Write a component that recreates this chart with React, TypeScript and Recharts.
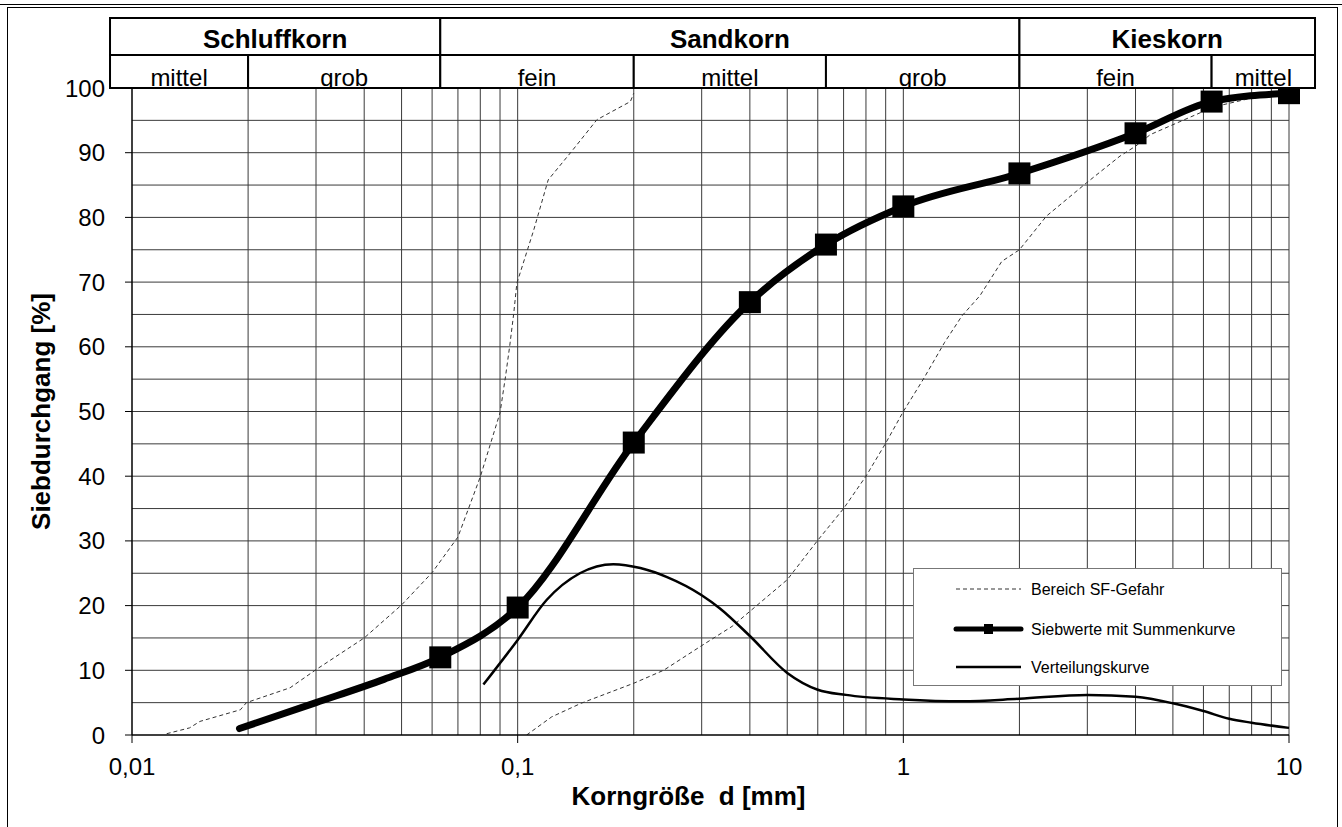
import React from "react";
import { LineChart, Line, XAxis, YAxis, CartesianGrid, ReferenceArea } from "recharts";

const FONT = "'Liberation Sans', Arial, Helvetica, sans-serif";

// Siebwerte mit Summenkurve (Korngröße in mm, Siebdurchgang in %)
const sieveSizes = [0.019, 0.03, 0.045, 0.063, 0.1, 0.2, 0.4, 0.63, 1, 2, 4, 6.3, 10];
const sievePassing = [1.0, 5.0, 8.6, 12.0, 19.7, 45.2, 66.9, 75.8, 81.7, 86.8, 93.0, 97.9, 99.2];
// true = Siebwert (Marker), false = nur Kurvenpunkt
const sieveMarked = [false, false, false, true, true, true, true, true, true, true, true, true, true];

// Bereich SF-Gefahr, feine Grenze
const sfFineSizes = [0.0123, 0.0141, 0.015, 0.0191, 0.0198, 0.0257, 0.03, 0.04, 0.05, 0.06, 0.07, 0.08, 0.09, 0.093, 0.0953, 0.0977, 0.0995, 0.11, 0.12, 0.138, 0.1605, 0.196, 0.2];
const sfFinePassing = [0.2, 1.1, 2.1, 3.9, 5.0, 7.3, 10.1, 15.0, 20.1, 25.1, 30.6, 39.9, 49.8, 55.4, 60.0, 65.2, 69.8, 78.0, 85.8, 90.2, 95.1, 97.9, 99.2];

// Bereich SF-Gefahr, grobe Grenze
const sfCoarseSizes = [0.1055, 0.1225, 0.146, 0.2, 0.239, 0.298, 0.36, 0.5, 0.6, 0.7, 0.8, 0.9, 1.0, 1.127, 1.28, 1.42, 1.58, 1.8, 2.0, 2.35, 2.98, 3.65, 4.0, 4.37, 5.9, 6.3, 10];
const sfCoarsePassing = [0, 2.8, 4.9, 8.0, 10.0, 13.7, 16.8, 24.0, 30.1, 35.0, 40.0, 45.1, 50.0, 55.0, 60.7, 64.8, 67.9, 73.2, 75.0, 80.2, 85.3, 89.5, 91.0, 92.8, 96.2, 97.0, 99.8];

// Verteilungskurve
const distSizes = [0.0815, 0.1, 0.119, 0.145, 0.177, 0.208, 0.244, 0.3, 0.334, 0.4, 0.5, 0.6, 0.71, 1, 1.42, 2, 3, 4, 5, 6, 7, 8, 10];
const distValues = [7.8, 14.7, 20.9, 25.0, 26.4, 25.8, 24.4, 21.6, 19.6, 15.3, 9.6, 7.0, 6.2, 5.5, 5.2, 5.6, 6.2, 5.9, 4.9, 3.7, 2.5, 1.9, 1.1];

const xTicks = [0.01, 0.1, 1, 10];
const yTicks = [0, 10, 20, 30, 40, 50, 60, 70, 80, 90, 100];
const gridY = [5, 10, 15, 20, 25, 30, 35, 40, 45, 50, 55, 60, 65, 70, 75, 80, 85, 90, 95];
const gridX = [
  0.02, 0.03, 0.04, 0.05, 0.06, 0.07, 0.08, 0.09, 0.1,
  0.2, 0.3, 0.4, 0.5, 0.6, 0.7, 0.8, 0.9, 1,
  2, 3, 4, 5, 6, 7, 8, 9, 10,
];

// Kopftabelle
const groupLabels = ["Schluffkorn", "Sandkorn", "Kieskorn"];
const groupEdges = [0.00877, 0.063, 2, 11.68];
const subLabels = ["mittel", "grob", "fein", "mittel", "grob", "fein", "mittel"];
const subEdges = [0.00877, 0.02, 0.063, 0.2, 0.63, 2, 6.3, 11.68];
const HEAD_TOP = 110.8;
const HEAD_MID = 105.1;

const toPts = (xs: number[], ys: number[]) => xs.map((d, i) => ({ d, p: ys[i] }));

const sieveData = sieveSizes.map((d, i) => ({ d, p: sievePassing[i], mark: sieveMarked[i] }));
const sfFineData = toPts(sfFineSizes, sfFinePassing);
const sfCoarseData = toPts(sfCoarseSizes, sfCoarsePassing);
const distData = toPts(distSizes, distValues);

const fmtX = (v: number) => String(v).replace(".", ",");

function cellLabel(text: string, bold: boolean, id: string) {
  return (props: any) => {
    const vb = props.viewBox || {};
    const { x, y, width, height } = vb;
    return (
      <g>
        <defs>
          <clipPath id={id}>
            <rect x={x} y={y} width={width} height={height} />
          </clipPath>
        </defs>
        <text
          x={x + width / 2}
          y={y + height - (bold ? 7 : 2)}
          textAnchor="middle"
          clipPath={`url(#${id})`}
          fontFamily={FONT}
          fontSize={bold ? 26 : 24}
          fontWeight={bold ? "bold" : "normal"}
          fill="#000"
        >
          {text}
        </text>
      </g>
    );
  };
}

const squareDot = (props: any) => {
  const { cx, cy, index, payload } = props;
  if (!payload || !payload.mark) return <g key={`dot-${index}`} />;
  return <rect key={`dot-${index}`} x={cx - 11} y={cy - 11} width={22} height={22} fill="#000" />;
};

const yLabel = (props: any) => {
  const vb = props.viewBox || { x: 42, y: 88, width: 90, height: 647 };
  const cx = vb.x + 8;
  const cy = vb.y + vb.height / 2;
  return (
    <text
      x={cx}
      y={cy}
      transform={`rotate(-90, ${cx}, ${cy})`}
      textAnchor="middle"
      fontFamily={FONT}
      fontSize={26}
      fontWeight="bold"
      fill="#000"
    >
      Siebdurchgang [%]
    </text>
  );
};

const xLabel = (props: any) => {
  const vb = props.viewBox || { x: 132, y: 735, width: 1157, height: 60 };
  return (
    <text
      x={vb.x + vb.width / 2 - 22}
      y={vb.y + 70}
      textAnchor="middle"
      fontFamily={FONT}
      fontSize={26}
      fontWeight="bold"
      fill="#000"
      style={{ whiteSpace: "pre" }}
    >
      {"Korngröße  d [mm]"}
    </text>
  );
};

function LegendBox() {
  return (
    <div
      style={{
        position: "absolute",
        left: 913,
        top: 568,
        width: 367,
        height: 116,
        border: "1px solid #777",
        background: "#fff",
      }}
    >
      <svg width={367} height={116} style={{ display: "block" }}>
        <line x1={42} y1={20} x2={107} y2={20} stroke="#333" strokeWidth={1} strokeDasharray="4 3" />
        <text x={117} y={20} dy="0.35em" fontFamily={FONT} fontSize={16} fill="#000">
          Bereich SF-Gefahr
        </text>
        <line x1={42} y1={60} x2={107} y2={60} stroke="#000" strokeWidth={5} strokeLinecap="round" />
        <rect x={70} y={55} width={9} height={10} fill="#000" />
        <text x={117} y={60} dy="0.35em" fontFamily={FONT} fontSize={16} fill="#000">
          Siebwerte mit Summenkurve
        </text>
        <line x1={42} y1={98} x2={107} y2={98} stroke="#000" strokeWidth={2.5} />
        <text x={117} y={98} dy="0.35em" fontFamily={FONT} fontSize={16} fill="#000">
          Verteilungskurve
        </text>
      </svg>
    </div>
  );
}

export default function App() {
  const tickStyle = { fill: "#000", fontSize: 24, fontFamily: FONT };
  return (
    <div
      style={{
        position: "absolute",
        left: 0,
        top: 0,
        width: 1342,
        height: 827,
        overflow: "hidden",
        background: "#fff",
      }}
    >
      <div style={{ position: "absolute", left: 0, top: 4, width: 1342, height: 1, background: "#000" }} />
      <div
        style={{
          position: "absolute",
          left: 7,
          top: 7,
          width: 1329,
          height: 830,
          border: "1px solid #000",
          borderBottom: "none",
        }}
      />
      <div style={{ position: "absolute", left: 0, top: 0 }}>
        <LineChart width={1342} height={827} margin={{ top: 88, right: 53, bottom: 32, left: 42 }}>
          <CartesianGrid horizontalValues={gridY} verticalValues={gridX} stroke="#3a3a3a" strokeWidth={1} />
          <XAxis
            type="number"
            dataKey="d"
            scale="log"
            domain={[0.01, 10]}
            ticks={xTicks}
            interval={0}
            tickFormatter={fmtX}
            tickSize={8}
            tickMargin={15}
            height={60}
            axisLine={{ stroke: "#000", strokeWidth: 1.5 }}
            tickLine={{ stroke: "#000" }}
            tick={tickStyle}
            label={xLabel}
          />
          <YAxis
            type="number"
            domain={[0, 100]}
            allowDataOverflow
            ticks={yTicks}
            interval={0}
            tickSize={7}
            tickMargin={20}
            width={90}
            axisLine={{ stroke: "#000", strokeWidth: 1.5 }}
            tickLine={{ stroke: "#000" }}
            tick={tickStyle}
            label={yLabel}
          />
          <Line
            data={sfFineData}
            dataKey="p"
            type="linear"
            stroke="#333"
            strokeWidth={1}
            strokeDasharray="4 3"
            dot={false}
            activeDot={false}
            isAnimationActive={false}
          />
          <Line
            data={sfCoarseData}
            dataKey="p"
            type="linear"
            stroke="#333"
            strokeWidth={1}
            strokeDasharray="4 3"
            dot={false}
            activeDot={false}
            isAnimationActive={false}
          />
          <Line
            data={distData}
            dataKey="p"
            type="monotone"
            stroke="#000"
            strokeWidth={2.5}
            dot={false}
            activeDot={false}
            isAnimationActive={false}
          />
          <Line
            data={sieveData}
            dataKey="p"
            type="monotone"
            stroke="#000"
            strokeWidth={7}
            strokeLinecap="round"
            strokeLinejoin="round"
            dot={squareDot}
            activeDot={false}
            isAnimationActive={false}
          />
          {groupLabels.map((g, i) => (
            <ReferenceArea
              key={`grp-${i}`}
              x1={groupEdges[i]}
              x2={groupEdges[i + 1]}
              y1={HEAD_MID}
              y2={HEAD_TOP}
              ifOverflow="visible"
              fill="#fff"
              fillOpacity={1}
              stroke="#000"
              strokeWidth={2}
              label={cellLabel(g, true, `grp-clip-${i}`)}
            />
          ))}
          {subLabels.map((s, i) => (
            <ReferenceArea
              key={`sub-${i}`}
              x1={subEdges[i]}
              x2={subEdges[i + 1]}
              y1={100}
              y2={HEAD_MID}
              ifOverflow="visible"
              fill="#fff"
              fillOpacity={1}
              stroke="#000"
              strokeWidth={2}
              label={cellLabel(s, false, `sub-clip-${i}`)}
            />
          ))}
        </LineChart>
      </div>
      <LegendBox />
    </div>
  );
}
